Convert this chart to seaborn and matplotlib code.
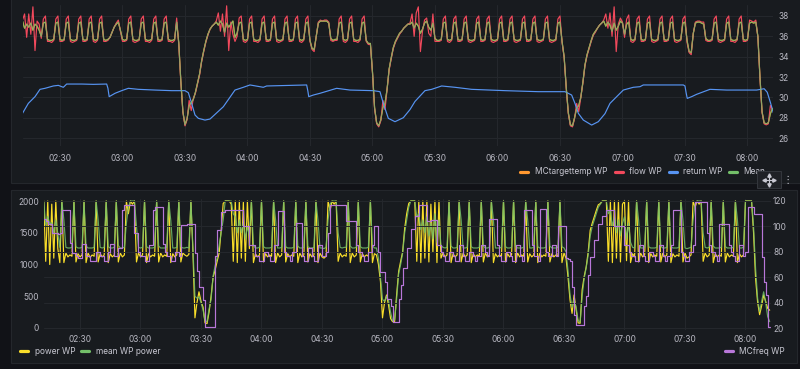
import pandas as pd
import seaborn as sns
import matplotlib.pyplot as plt
import matplotlib.dates as mdates
from matplotlib.patches import Rectangle
from matplotlib.lines import Line2D

# Data, one sample per minute from 02:12 (return WP is sampled irregularly)
DAY = "2024-01-15"
START = DAY + " 02:12"

target_temp = [
    37.5, 36.8, 37.2, 36.9, 37.3, 36.6, 37.2, 37.0, 36.6, 36.0,  # 02:12
    37.3, 37.4, 35.7, 35.6, 35.6, 35.7, 37.3, 37.4, 35.7, 35.6,  # 02:22
    35.7, 37.3, 37.4, 35.7, 35.6, 35.6, 35.7, 37.3, 37.4, 35.7,  # 02:32
    35.6, 35.7, 37.3, 37.4, 35.7, 35.6, 35.7, 37.3, 37.4, 35.7,  # 02:42
    35.6, 35.7, 35.9, 36.4, 36.9, 37.2, 37.4, 36.6, 35.7, 35.6,  # 02:52
    35.7, 37.3, 37.4, 35.7, 35.6, 35.6, 35.7, 37.3, 37.4, 35.7,  # 03:02
    35.6, 35.6, 35.7, 37.3, 37.4, 35.7, 35.6, 35.7, 37.3, 37.4,  # 03:12
    35.7, 35.6, 35.6, 35.7, 37.4, 35.4, 31.6, 28.6, 27.3, 27.9,  # 03:22
    29.2, 29.5, 29.8, 30.5, 31.4, 32.3, 33.6, 34.6, 35.5, 36.2,  # 03:32
    36.7, 37.0, 37.2, 37.4, 37.1, 37.5, 37.2, 36.4, 37.3, 36.9,  # 03:42
    37.2, 37.5, 35.9, 36.3, 37.3, 37.4, 35.7, 35.6, 35.7, 37.3,  # 03:52
    37.4, 35.7, 35.6, 35.6, 35.7, 37.3, 37.4, 35.7, 35.6, 35.7,  # 04:02
    37.3, 37.4, 35.7, 35.6, 35.6, 35.7, 37.3, 37.4, 35.7, 35.6,  # 04:12
    35.7, 37.3, 37.4, 35.7, 35.6, 35.7, 37.3, 37.4, 35.6, 34.8,  # 04:22
    34.7, 36.0, 37.3, 37.5, 37.5, 37.5, 37.5, 37.3, 35.8, 35.6,  # 04:32
    35.7, 35.7, 37.3, 37.4, 35.7, 35.6, 35.7, 37.3, 37.4, 35.7,  # 04:42
    35.6, 35.6, 35.7, 37.3, 37.4, 35.6, 35.3, 35.3, 32.5, 29.0,  # 04:52
    27.5, 27.2, 27.8, 29.0, 29.4, 30.8, 32.8, 33.9, 34.9, 35.5,  # 05:02
    35.9, 36.3, 36.5, 36.8, 37.0, 37.2, 37.2, 37.4, 36.8, 37.3,  # 05:12
    37.0, 36.3, 36.7, 37.3, 37.5, 36.9, 36.6, 37.3, 35.8, 35.6,  # 05:22
    35.6, 35.7, 37.3, 37.4, 35.7, 35.6, 35.7, 37.3, 37.4, 35.7,  # 05:32
    35.6, 35.7, 37.3, 37.4, 35.7, 35.6, 35.6, 35.7, 37.3, 37.4,  # 05:42
    35.7, 35.6, 35.7, 37.3, 37.4, 35.7, 35.6, 35.6, 35.7, 37.3,  # 05:52
    37.4, 35.7, 35.6, 35.7, 37.3, 37.4, 35.7, 35.6, 35.6, 35.7,  # 06:02
    37.3, 37.4, 35.7, 35.6, 35.7, 37.3, 37.4, 35.7, 35.6, 35.6,  # 06:12
    35.7, 37.3, 37.4, 35.7, 35.6, 35.6, 35.7, 37.3, 37.4, 35.5,  # 06:22
    34.0, 31.0, 28.5, 27.3, 27.2, 28.0, 28.9, 29.2, 30.0, 31.5,  # 06:32
    33.2, 34.2, 34.9, 35.6, 36.2, 36.5, 36.8, 37.1, 37.3, 37.5,  # 06:42
    37.0, 37.4, 37.1, 36.5, 37.3, 36.6, 37.0, 37.5, 37.3, 36.2,  # 06:52
    37.2, 37.4, 35.7, 35.6, 35.7, 37.3, 37.4, 35.7, 35.6, 35.7,  # 07:02
    37.3, 37.4, 35.7, 35.6, 35.6, 35.7, 37.3, 37.4, 35.7, 35.6,  # 07:12
    35.7, 37.3, 37.4, 35.7, 35.6, 35.6, 35.7, 37.3, 37.4, 35.6,  # 07:22
    34.5, 34.4, 36.3, 37.3, 37.4, 37.4, 37.3, 37.2, 35.8, 35.6,  # 07:32
    35.6, 35.7, 37.3, 37.4, 35.7, 35.6, 35.6, 35.7, 37.3, 37.4,  # 07:42
    35.7, 35.6, 35.6, 35.7, 37.3, 37.4, 35.7, 35.6, 35.7, 37.3,  # 07:52
    37.4, 37.3, 37.4, 36.0, 32.0, 28.6, 27.5, 27.4, 27.5, 28.4,  # 08:02
    28.9,
]

flow_temp = [
    37.6, 38.2, 35.9, 38.2, 36.2, 38.9, 34.6, 37.5, 37.2, 35.8,  # 02:12
    37.7, 38.0, 35.5, 35.5, 35.4, 35.6, 37.7, 38.0, 35.5, 35.5,  # 02:22
    35.6, 37.7, 38.0, 35.5, 35.4, 35.5, 35.6, 37.7, 38.0, 35.5,  # 02:32
    35.5, 35.6, 37.7, 38.0, 35.5, 35.4, 35.6, 37.7, 38.0, 35.5,  # 02:42
    35.5, 35.6, 35.9, 36.4, 36.9, 37.3, 37.6, 36.5, 35.5, 35.5,  # 02:52
    35.6, 37.7, 38.0, 35.5, 35.4, 35.5, 35.6, 37.7, 38.0, 35.5,  # 03:02
    35.5, 35.4, 35.6, 37.7, 38.0, 35.5, 35.5, 35.6, 37.7, 38.0,  # 03:12
    35.5, 35.5, 35.4, 35.6, 37.8, 35.2, 31.5, 28.5, 27.2, 27.8,  # 03:22
    29.7, 28.7, 29.9, 30.4, 31.3, 32.2, 33.5, 34.5, 35.4, 36.1,  # 03:32
    36.7, 37.0, 37.2, 37.5, 38.3, 36.5, 38.2, 36.0, 39.0, 34.6,  # 03:42
    37.4, 36.2, 35.5, 36.0, 37.8, 38.0, 35.5, 35.4, 35.6, 37.7,  # 03:52
    38.0, 35.5, 35.5, 35.4, 35.6, 37.7, 38.0, 35.5, 35.5, 35.6,  # 04:02
    37.7, 38.0, 35.5, 35.4, 35.5, 35.6, 37.7, 38.0, 35.5, 35.5,  # 04:12
    35.6, 37.7, 38.0, 35.5, 35.4, 35.6, 37.7, 38.0, 35.5, 34.7,  # 04:22
    34.5, 36.0, 37.4, 37.6, 37.5, 37.6, 37.6, 37.4, 35.6, 35.5,  # 04:32
    35.6, 35.6, 37.7, 38.0, 35.5, 35.4, 35.6, 37.7, 38.0, 35.5,  # 04:42
    35.5, 35.4, 35.6, 37.7, 38.0, 35.5, 35.2, 35.2, 32.4, 28.9,  # 04:52
    27.4, 27.1, 27.7, 29.7, 28.8, 30.8, 32.7, 33.8, 34.8, 35.4,  # 05:02
    35.8, 36.2, 36.5, 36.8, 37.0, 37.2, 37.3, 38.2, 36.0, 38.3,  # 05:12
    38.9, 34.5, 36.5, 37.6, 37.8, 36.3, 36.0, 38.2, 35.5, 35.5,  # 05:22
    35.5, 35.6, 37.7, 38.0, 35.5, 35.4, 35.6, 37.7, 38.0, 35.5,  # 05:32
    35.5, 35.6, 37.7, 38.0, 35.5, 35.4, 35.5, 35.6, 37.7, 38.0,  # 05:42
    35.5, 35.5, 35.6, 37.7, 38.0, 35.5, 35.4, 35.5, 35.6, 37.7,  # 05:52
    38.0, 35.5, 35.5, 35.6, 37.7, 38.0, 35.5, 35.4, 35.5, 35.6,  # 06:02
    37.7, 38.0, 35.5, 35.5, 35.6, 37.7, 38.0, 35.5, 35.4, 35.5,  # 06:12
    35.6, 37.7, 38.0, 35.5, 35.4, 35.5, 35.6, 37.7, 38.0, 35.4,  # 06:22
    33.9, 30.9, 28.4, 27.2, 27.1, 27.9, 29.4, 28.6, 30.0, 31.4,  # 06:32
    33.1, 34.1, 34.8, 35.5, 36.1, 36.4, 36.8, 37.1, 37.3, 37.6,  # 06:42
    38.2, 36.8, 38.3, 36.0, 38.9, 34.5, 37.2, 37.8, 37.4, 35.9,  # 06:52
    37.7, 38.1, 35.5, 35.4, 35.6, 37.7, 38.0, 35.5, 35.5, 35.6,  # 07:02
    37.7, 38.0, 35.5, 35.4, 35.5, 35.6, 37.7, 38.0, 35.5, 35.5,  # 07:12
    35.6, 37.7, 38.0, 35.5, 35.4, 35.5, 35.6, 37.7, 38.0, 35.4,  # 07:22
    34.4, 34.2, 36.3, 37.4, 37.5, 37.5, 37.4, 37.4, 35.6, 35.5,  # 07:32
    35.5, 35.6, 37.7, 38.0, 35.5, 35.4, 35.5, 35.6, 37.7, 38.0,  # 07:42
    35.5, 35.5, 35.4, 35.6, 37.7, 38.0, 35.5, 35.5, 35.6, 37.6,  # 07:52
    37.5, 37.4, 37.6, 35.9, 31.9, 28.5, 27.4, 27.3, 27.4, 29.2,  # 08:02
    28.8,
]

# the green mean line sits right on top of the target line
mean_temp = target_temp

return_minutes = [
    132.0, 134.8, 138.0, 140.4, 142.8, 146.8, 149.2, 151.6, 153.2, 160.4,
    166.0, 172.4, 173.0, 173.6, 176.4, 179.6, 182.8, 187.6, 195.6, 203.6,
    210.0, 211.6, 213.2, 214.8, 216.4, 219.6, 222.0, 228.4, 234.0, 238.0,
    241.2, 247.6, 249.2, 268.4, 269.0, 269.4, 271.6, 274.8, 282.8, 289.2,
    300.4, 303.6, 305.2, 307.6, 310.8, 314.8, 318.0, 320.4, 325.2, 328.4,
    333.2, 339.6, 347.6, 363.6, 379.6, 392.4, 395.6, 397.2, 398.8, 401.2,
    405.2, 408.4, 411.6, 414.0, 418.0, 420.4, 425.2, 428.4, 430.0, 449.2,
    450.0, 450.6, 451.1, 453.2, 455.6, 462.0, 470.0, 484.4, 488.0, 489.5,
    491.0, 492.4,
]
return_temp = [
    28.43, 29.41, 30.07, 30.79, 30.89, 31.12, 31.18, 30.99, 31.31, 31.31,
    31.28, 31.31, 30.90, 30.07, 30.40, 30.66, 30.89, 30.79, 30.72, 30.66,
    30.66, 30.46, 29.41, 28.27, 27.94, 27.77, 27.87, 29.08, 30.72, 30.99,
    31.22, 30.99, 31.12, 31.22, 30.60, 30.07, 30.23, 30.40, 30.89, 30.72,
    30.66, 30.56, 29.41, 27.94, 27.61, 28.00, 28.80, 29.60, 30.66, 30.79,
    31.12, 30.99, 30.79, 30.66, 30.56, 30.56, 30.23, 29.41, 28.43, 27.77,
    27.28, 27.61, 28.40, 29.41, 30.23, 30.72, 30.99, 31.05, 31.22, 31.22,
    31.12, 30.40, 29.90, 30.07, 30.30, 30.79, 30.72, 30.72, 30.85, 30.50,
    29.50, 28.50,
]

power_w = [
    2000, 1050, 2000, 1000, 1950, 1100, 2000, 1250, 1030, 2000,  # 02:12
    1030, 1180, 1120, 1150, 1130, 2000, 1040, 1170, 1120, 1150,  # 02:22
    2000, 1030, 1180, 1110, 1150, 1130, 2000, 1040, 1170, 1120,  # 02:32
    1150, 2000, 1030, 1170, 1120, 1150, 2000, 1040, 1180, 1120,  # 02:42
    1150, 2000, 1800, 2000, 1950, 2000, 1040, 1180, 1120, 1150,  # 02:52
    2000, 1030, 1170, 1120, 1150, 1130, 2000, 1040, 1180, 1120,  # 03:02
    1150, 1130, 2000, 1030, 1170, 1120, 1150, 2000, 1040, 1180,  # 03:12
    1150, 1130, 1160, 2000, 1200, 160, 400, 570, 420, 330,  # 03:22
    80, 70, 250, 500, 800, 910, 1050, 1180, 1540, 1960,  # 03:32
    2000, 2000, 2000, 1950, 1050, 2000, 1030, 2000, 1100, 1980,  # 03:42
    1050, 2000, 1250, 2000, 1030, 1170, 1120, 1150, 2000, 1040,  # 03:52
    1170, 1120, 1150, 1130, 2000, 1030, 1180, 1120, 1150, 2000,  # 04:02
    1040, 1170, 1120, 1150, 1130, 2000, 1030, 1180, 1120, 1150,  # 04:12
    2000, 1040, 1170, 1120, 1150, 2000, 1030, 1180, 1120, 1100,  # 04:22
    1130, 2000, 1850, 2000, 1950, 2000, 1050, 1180, 1120, 1150,  # 04:32
    1130, 2000, 1030, 1180, 1120, 1150, 2000, 1040, 1170, 1120,  # 04:42
    1150, 1130, 2000, 1030, 1170, 1150, 1000, 730, 160, 400,  # 04:52
    520, 360, 150, 100, 100, 520, 890, 1050, 1200, 1570,  # 05:02
    1800, 1960, 2000, 2000, 2000, 1050, 2000, 1030, 2000, 1100,  # 05:12
    2000, 1040, 1950, 1200, 2000, 1030, 2000, 1100, 1180, 1120,  # 05:22
    1150, 2000, 1030, 1170, 1120, 1150, 2000, 1040, 1180, 1120,  # 05:32
    1150, 2000, 1030, 1170, 1120, 1150, 1130, 2000, 1040, 1180,  # 05:42
    1120, 1150, 2000, 1030, 1170, 1120, 1150, 1130, 2000, 1040,  # 05:52
    1170, 1120, 1150, 2000, 1030, 1180, 1120, 1150, 1130, 2000,  # 06:02
    1040, 1170, 1120, 1150, 2000, 1030, 1180, 1120, 1150, 1130,  # 06:12
    2000, 1040, 1170, 1120, 1150, 1130, 2000, 1030, 1180, 1100,  # 06:22
    800, 440, 230, 520, 290, 80, 75, 600, 810, 960,  # 06:32
    1200, 1540, 1650, 1750, 1850, 1940, 1960, 2000, 2000, 2000,  # 06:42
    1050, 2000, 1030, 2000, 1100, 2000, 1040, 1950, 2000, 1060,  # 06:52
    2000, 1030, 1170, 1120, 2000, 1040, 1180, 1120, 1150, 2000,  # 07:02
    1030, 1170, 1120, 1150, 1130, 2000, 1040, 1180, 1120, 1150,  # 07:12
    2000, 1030, 1170, 1120, 1150, 1130, 2000, 1040, 1180, 1100,  # 07:22
    1120, 1150, 2000, 1900, 2000, 1950, 2000, 1050, 1180, 1120,  # 07:32
    1150, 2000, 1030, 1170, 1120, 1150, 1130, 2000, 1040, 1180,  # 07:42
    1120, 1150, 1130, 2000, 1030, 1170, 1120, 1150, 2000, 2000,  # 07:52
    2000, 2000, 1500, 780, 410, 210, 350, 520, 420, 310,  # 08:02
    280,
]

mean_power_w = [
    2000, 1620, 1760, 1640, 1660, 1500, 1700, 1480, 1270, 2000,  # 02:12
    1700, 1270, 1260, 1260, 1270, 2000, 1280, 1260, 1260, 1270,  # 02:22
    2000, 1290, 1260, 1260, 1260, 1270, 2000, 1700, 1270, 1260,  # 02:32
    1270, 2000, 1280, 1260, 1260, 1270, 2000, 1300, 1260, 1260,  # 02:42
    1270, 1650, 1900, 2000, 2000, 2000, 1600, 1270, 1260, 1270,  # 02:52
    2000, 1280, 1260, 1260, 1260, 1270, 2000, 1290, 1260, 1260,  # 03:02
    1260, 1270, 2000, 1700, 1260, 1260, 1270, 2000, 1280, 1260,  # 03:12
    1260, 1270, 1260, 2000, 1250, 500, 470, 490, 400, 290,  # 03:22
    110, 100, 300, 450, 820, 980, 1100, 1300, 1490, 1700,  # 03:32
    2000, 2000, 2000, 2000, 1800, 1750, 1500, 1700, 1500, 1650,  # 03:42
    1400, 1600, 1450, 2000, 1300, 1260, 1260, 1270, 2000, 1280,  # 03:52
    1260, 1260, 1260, 1270, 2000, 1700, 1260, 1260, 1270, 2000,  # 04:02
    1280, 1260, 1260, 1260, 1270, 2000, 1290, 1260, 1260, 1270,  # 04:12
    2000, 1280, 1260, 1260, 1270, 2000, 1700, 1260, 1260, 1250,  # 04:22
    1270, 1700, 1950, 2000, 2000, 2000, 1500, 1270, 1260, 1270,  # 04:32
    1270, 2000, 1290, 1260, 1260, 1270, 2000, 1280, 1260, 1260,  # 04:42
    1260, 1270, 2000, 1300, 1260, 1260, 1100, 800, 450, 420,  # 04:52
    500, 430, 250, 110, 130, 450, 850, 1000, 1180, 1500,  # 05:02
    1700, 1900, 2000, 2000, 2000, 1750, 1800, 1550, 1700, 1500,  # 05:12
    1750, 1450, 1650, 1400, 1800, 1350, 1700, 1300, 1270, 1260,  # 05:22
    1270, 2000, 1290, 1260, 1260, 1270, 2000, 1700, 1260, 1260,  # 05:32
    1270, 2000, 1280, 1260, 1260, 1260, 1270, 2000, 1290, 1260,  # 05:42
    1260, 1270, 2000, 1700, 1260, 1260, 1260, 1270, 2000, 1280,  # 05:52
    1260, 1260, 1270, 2000, 1290, 1260, 1260, 1260, 1270, 2000,  # 06:02
    1700, 1260, 1260, 1270, 2000, 1280, 1260, 1260, 1260, 1270,  # 06:12
    2000, 1290, 1260, 1260, 1260, 1270, 2000, 1280, 1260, 1200,  # 06:22
    900, 520, 330, 450, 330, 120, 90, 500, 780, 950,  # 06:32
    1150, 1450, 1600, 1700, 1800, 1900, 1950, 2000, 2000, 2000,  # 06:42
    1800, 1850, 1600, 1750, 1500, 1700, 1450, 1650, 1750, 1400,  # 06:52
    1650, 1350, 1270, 1260, 2000, 1700, 1260, 1260, 1270, 2000,  # 07:02
    1280, 1260, 1260, 1260, 1270, 2000, 1290, 1260, 1260, 1270,  # 07:12
    2000, 1280, 1260, 1260, 1260, 1270, 2000, 1700, 1260, 1250,  # 07:22
    1260, 1270, 1700, 1950, 2000, 2000, 2000, 1500, 1270, 1260,  # 07:32
    1270, 2000, 1290, 1260, 1260, 1260, 1270, 2000, 1280, 1260,  # 07:42
    1260, 1260, 1270, 2000, 1700, 1260, 1260, 1270, 2000, 2000,  # 07:52
    2000, 2000, 1600, 940, 470, 260, 420, 570, 400, 180,  # 08:02
    100,
]

mc_freq = [
    106, 104, 102, 102, 95, 95, 95, 94, 95, 113,  # 02:12
    113, 113, 113, 87, 79, 79, 77, 75, 75, 86,  # 02:22
    86, 77, 77, 73, 73, 73, 80, 80, 77, 77,  # 02:32
    73, 73, 80, 86, 86, 77, 77, 83, 83, 113,  # 02:42
    117, 117, 117, 117, 117, 95, 95, 80, 77, 77,  # 02:52
    73, 73, 85, 85, 113, 115, 115, 115, 115, 86,  # 03:02
    80, 77, 77, 73, 73, 80, 80, 77, 101, 101,  # 03:12
    101, 102, 102, 102, 102, 79, 65, 52, 52, 42,  # 03:22
    21, 21, 21, 21, 21, 77, 97, 97, 111, 111,  # 03:32
    113, 113, 113, 113, 113, 113, 113, 113, 113, 100,  # 03:42
    100, 100, 85, 85, 85, 77, 77, 73, 73, 80,  # 03:52
    80, 77, 73, 73, 85, 85, 112, 112, 112, 80,  # 04:02
    77, 77, 73, 80, 80, 103, 103, 103, 77, 73,  # 04:12
    73, 83, 83, 77, 73, 73, 85, 85, 77, 77,  # 04:22
    80, 95, 117, 117, 117, 117, 117, 117, 117, 117,  # 04:32
    104, 104, 104, 104, 104, 85, 80, 80, 77, 73,  # 04:42
    73, 80, 80, 85, 100, 100, 80, 64, 64, 56,  # 04:52
    43, 43, 37, 25, 25, 25, 43, 54, 67, 67,  # 05:02
    83, 83, 98, 98, 108, 108, 117, 117, 117, 117,  # 05:12
    104, 104, 105, 105, 105, 85, 85, 80, 77, 73,  # 05:22
    73, 80, 80, 77, 73, 73, 85, 85, 77, 73,  # 05:32
    73, 80, 80, 77, 73, 77, 77, 85, 85, 80,  # 05:42
    77, 106, 106, 106, 106, 85, 77, 73, 73, 80,  # 05:52
    80, 77, 73, 73, 85, 85, 77, 73, 113, 113,  # 06:02
    113, 113, 85, 77, 77, 73, 114, 114, 114, 80,  # 06:12
    77, 77, 85, 85, 77, 100, 100, 100, 100, 75,  # 06:22
    74, 73, 52, 30, 22, 22, 22, 22, 37, 45,  # 06:32
    62, 76, 76, 89, 89, 102, 102, 108, 108, 113,  # 06:42
    113, 113, 113, 100, 100, 100, 100, 100, 85, 85,  # 06:52
    80, 77, 77, 73, 73, 85, 85, 77, 73, 73,  # 07:02
    80, 80, 77, 73, 73, 85, 85, 77, 73, 77,  # 07:12
    77, 85, 113, 113, 113, 113, 80, 77, 73, 73,  # 07:22
    80, 80, 85, 119, 119, 119, 119, 119, 119, 95,  # 07:32
    85, 80, 80, 77, 73, 102, 102, 102, 102, 102,  # 07:42
    85, 80, 77, 73, 73, 85, 85, 77, 80, 115,  # 07:52
    115, 115, 110, 110, 110, 110, 76, 56, 46, 21,  # 08:02
    21,
]

temp_ticks = [26, 28, 30, 32, 34, 36, 38]
power_ticks = [0, 500, 1000, 1500, 2000]
freq_ticks = [20, 40, 60, 80, 100, 120]

# Grafana dark look
BG = "#111217"
PANEL = "#181b1f"
BORDER = "#24272c"
GRID = "#25282d"
TICK = "#b9b9c3"
TEXT = "#c8c8d2"
ORANGE = "#FF9830"
RED = "#F2495C"
BLUE = "#5794F2"
GREEN = "#73BF69"
YELLOW = "#FADE2A"
PURPLE = "#B877D9"
W, H = 800, 369
FS = 6.0


def per_minute(values):
    return pd.DataFrame({"time": pd.date_range(START, periods=len(values), freq="1min"),
                         "value": values})


def fx(px):
    return px / W


def fy(py):
    return 1 - py / H


sns.set_theme(style="dark", rc={
    "figure.facecolor": BG,
    "axes.facecolor": PANEL,
    "axes.grid": True,
    "grid.color": GRID,
    "grid.linewidth": 0.7,
    "xtick.color": TICK,
    "ytick.color": TICK,
    "text.color": TEXT,
})
plt.rcParams["font.family"] = ["Inter", "DejaVu Sans"]

fig = plt.figure(figsize=(W / 100, H / 100), dpi=100)

# panel backgrounds
for x0, y0, x1, y1 in [(10.5, -3, 805, 182.5), (10.5, 189.5, 796.5, 362.5)]:
    fig.add_artist(Rectangle((fx(x0), fy(y1)), fx(x1) - fx(x0), fy(y0) - fy(y1),
                             transform=fig.transFigure, facecolor=PANEL,
                             edgecolor=BORDER, linewidth=0.8, zorder=-1))

t0 = pd.Timestamp(START)
t1 = pd.Timestamp(DAY + " 08:12:24")

# ---- top panel: temperatures
ax_t = fig.add_axes([fx(22.5), fy(146), fx(773.3) - fx(22.5), 141 / H])
lw = 0.85
sns.lineplot(data=per_minute(target_temp), x="time", y="value", ax=ax_t,
             color=ORANGE, linewidth=lw, estimator=None)
sns.lineplot(data=per_minute(flow_temp), x="time", y="value", ax=ax_t,
             color=RED, linewidth=lw, estimator=None)
ret_df = pd.DataFrame({"time": pd.Timestamp(DAY) + pd.to_timedelta(return_minutes, unit="min"),
                       "value": return_temp})
sns.lineplot(data=ret_df, x="time", y="value", ax=ax_t,
             color=BLUE, linewidth=lw, estimator=None)
sns.lineplot(data=per_minute(mean_temp), x="time", y="value", ax=ax_t,
             color=GREEN, linewidth=lw, alpha=0.78, estimator=None)
ax_t.set_ylim(25.22, 39.08)
ax_t.set_yticks(temp_ticks)
ax_t.yaxis.tick_right()
ax_t.tick_params(axis="y", length=0, pad=3.4, labelsize=FS)
ax_t.tick_params(axis="x", length=0, pad=5.5, labelsize=FS)

# ---- bottom panel: power and compressor frequency
ax_b = fig.add_axes([fx(43.7), fy(330), fx(770.5) - fx(43.7), 131 / H])
sns.lineplot(data=per_minute(power_w), x="time", y="value", ax=ax_b,
             color=YELLOW, linewidth=lw, estimator=None)
sns.lineplot(data=per_minute(mean_power_w), x="time", y="value", ax=ax_b,
             color=GREEN, linewidth=lw, alpha=0.85, estimator=None)
ax_b.set_ylim(-31.5, 2031.5)
ax_b.set_yticks(power_ticks)
ax_b.grid(axis="y", visible=False)
ax_b.tick_params(axis="y", length=0, pad=3.4, labelsize=FS)
ax_b.tick_params(axis="x", length=0, pad=3.5, labelsize=FS)

ax_r = ax_b.twinx()
sns.lineplot(data=per_minute(mc_freq), x="time", y="value", ax=ax_r,
             color=PURPLE, linewidth=lw, drawstyle="steps-post", estimator=None)
ax_r.set_ylim(18.43, 121.57)
ax_r.set_yticks(freq_ticks)
ax_r.grid(axis="y", color=GRID, linewidth=0.7)
ax_r.grid(axis="x", visible=False)
ax_r.tick_params(axis="y", length=0, pad=1.8, labelsize=FS)

for ax in (ax_t, ax_b, ax_r):
    ax.set_xlim(t0, t1)
    ax.set_xlabel("")
    ax.set_ylabel("")
    for sp in ax.spines.values():
        sp.set_visible(False)
for ax in (ax_t, ax_b):
    ax.xaxis.set_major_locator(mdates.MinuteLocator(byminute=[0, 30]))
    ax.xaxis.set_major_formatter(mdates.DateFormatter("%H:%M"))


# ---- legends drawn like Grafana's
def legend_item(x_dash, x_text, py, color, label, z=3):
    fig.add_artist(Line2D([fx(x_dash), fx(x_dash + 8)], [fy(py), fy(py)],
                          transform=fig.transFigure, color=color, linewidth=2.3,
                          solid_capstyle="round", zorder=z))
    fig.text(fx(x_text), fy(py), label, ha="left", va="center",
             fontsize=FS, color=TEXT, zorder=z)


legend_item(519.5, 535, 172, ORANGE, "MCtargettemp WP")
legend_item(615, 629, 172, RED, "flow WP")
legend_item(668.5, 683, 172, BLUE, "return WP")
legend_item(729, 743, 172, GREEN, "Mean")
legend_item(20, 35, 351, YELLOW, "power WP")
legend_item(81, 96, 351, GREEN, "mean WP power")
legend_item(725, 739, 351, PURPLE, "MCfreq WP")

# panel hover icons (move + menu); the move box hides the end of the legend
fig.add_artist(Rectangle((fx(757), fy(187.5)), fx(781) - fx(757), fy(171.5) - fy(187.5),
                         transform=fig.transFigure, facecolor="#1f2126",
                         edgecolor="#34373d", linewidth=0.7, zorder=8))
cx, cy = 769, 179.5
for dx, dy, mk in [(-5, 0, "<"), (5, 0, ">"), (0, -5, "^"), (0, 5, "v")]:
    fig.add_artist(Line2D([fx(cx), fx(cx + dx)], [fy(cy), fy(cy + dy)],
                          transform=fig.transFigure, color=TEXT, linewidth=0.8, zorder=9))
    fig.add_artist(Line2D([fx(cx + dx)], [fy(cy + dy)], transform=fig.transFigure,
                          marker=mk, markersize=2.4, color=TEXT, linestyle="none", zorder=9))
fig.text(fx(788), fy(180), "\u22ee", ha="center", va="center", fontsize=7.5,
         color=TEXT, family=["DejaVu Sans"], zorder=9)

fig.savefig("out.png", dpi=100, facecolor=BG)
